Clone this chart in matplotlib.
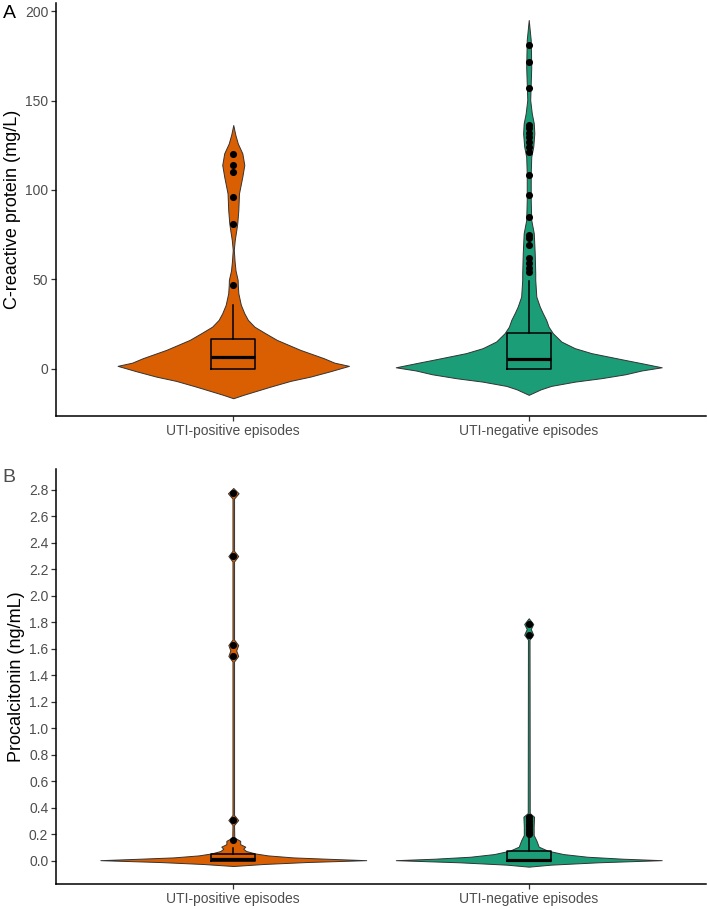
import matplotlib
matplotlib.use("Agg")
import numpy as np
import matplotlib.pyplot as plt

plt.rcParams['font.family'] = ['Liberation Sans', 'DejaVu Sans']

# groups and colours
groups = ["UTI-positive episodes", "UTI-negative episodes"]
colors = ["#D95F02", "#1B9E77"]

# ---- panel A: CRP (mg/L) ----
# violin outlines: y level and relative density (0-100)
crp_pos_y = [-16.4, -14.5, -9.9, -6.7, -4.3, -1.3, 1.7, 3.5, 6.0, 10.6, 16.2, 19.9,
             23.6, 27.4, 31.1, 35.8, 42.3, 47.0, 49.7, 55.0, 60.0, 66.5, 72.0, 77.7,
             81.4, 88.8, 98.1, 107.4, 114.0, 120.5, 126.0, 131.0, 136.3]
crp_pos_d = [0, 7.6, 28, 43, 58, 73, 87, 76, 68, 50.5, 32.8, 24.2,
             15.9, 11, 8.3, 5.7, 3.8, 3.4, 3.3, 1.7, 1.0, 0.4, 1.1, 2.3,
             3, 3.8, 4.3, 6.8, 8.3, 6.8, 3.4, 1.5, 0]
crp_neg_y = [-14.5, -11.4, -9.5, -7.1, -5.2, -3.0, -0.9, 0.9, 3.2, 5.0, 8.8, 11.6,
             15.3, 19.9, 23.6, 27.4, 31.1, 34.8, 40.4, 49.7, 53.4, 64.6, 75.8, 83.2,
             94.4, 109.2, 118.6, 124.2, 131.6, 137.2, 142.8, 150.3, 168.9, 183.8, 195.0]
crp_neg_d = [0, 9.1, 16.9, 34.8, 54.5, 72.7, 84.8, 100, 84.8, 72.5, 47.2, 34.6,
             24.5, 18.2, 14.9, 13.1, 10.6, 8.3, 5.7, 4.9, 4.9, 4.5, 3.8, 1.9,
             1.5, 1.5, 1.9, 3.4, 4.2, 3.8, 2.3, 1.1, 1.9, 1.5, 0]
# box stats: low whisker, q1, median, q3, high whisker
crp_pos_box = [0, 0, 6.9, 16.9, 35.8]
crp_neg_box = [0, 0, 5.8, 19.9, 49.0]
crp_pos_out = [120, 114, 110.2, 95.9, 80.8, 46.9]
crp_neg_out = [181, 171.7, 156.8, 136.3, 134.5, 132, 129.8, 127, 124.2, 121.4,
               108.4, 97.2, 85.1, 74.9, 73, 69.3, 61.8, 59, 56.2, 54]

# ---- panel B: procalcitonin (ng/mL) ----
pct_pos_y = [-0.040, -0.025, -0.010, 0.004, 0.015, 0.025, 0.040, 0.055, 0.073,
             0.090, 0.106, 0.125, 0.150, 0.175, 0.270, 0.307, 0.345, 1.505,
             1.546, 1.588, 1.629, 1.670, 2.260, 2.301, 2.340, 2.735, 2.775, 2.815]
pct_pos_d = [0, 22.4, 55.2, 100, 70.1, 44.8, 26.1, 16.4, 9.7,
             7.5, 9, 5.2, 5.2, 0.75, 0.6, 3.7, 0.6, 0.6,
             3.7, 2.2, 3.7, 0.6, 0.6, 3.7, 0.6, 0.6, 4, 0]
pct_neg_y = [-0.045, -0.030, -0.012, 0.004, 0.015, 0.030, 0.050, 0.076, 0.106,
             0.156, 0.194, 0.260, 0.332, 0.360, 1.670, 1.707, 1.750, 1.788, 1.831]
pct_neg_d = [0, 16.4, 52.2, 100, 70.9, 44, 26.1, 14.2, 7.5,
             5.6, 3.7, 3.7, 4, 0.75, 0.6, 3.4, 1.5, 3.4, 0]
pct_pos_box = [0, 0, 0.01, 0.05, 0.094]
pct_neg_box = [0, 0, 0.005, 0.076, 0.18]
pct_pos_out = [2.775, 2.301, 1.629, 1.546, 0.307, 0.156]
pct_neg_out = [1.788, 1.707, 0.33, 0.32, 0.30, 0.28, 0.26, 0.24, 0.22, 0.20]


def draw_panel(ax, violins, boxes, outliers, ylabel, yticks, ylim, fmt):
    for i, (vy, vd) in enumerate(violins):
        pos = i + 1
        w = 0.45 * np.array(vd) / 100.0
        ax.fill_betweenx(vy, pos - w, pos + w, facecolor=colors[i],
                         edgecolor="#333333", linewidth=0.7, zorder=1)
    stats = []
    for b in boxes:
        stats.append(dict(whislo=b[0], q1=b[1], med=b[2], q3=b[3], whishi=b[4]))
    ax.bxp(stats, positions=[1, 2], widths=0.15, showfliers=False, showcaps=False,
           boxprops=dict(color="black", linewidth=1.1),
           whiskerprops=dict(color="black", linewidth=1.1),
           medianprops=dict(color="black", linewidth=2.3),
           manage_ticks=False, zorder=2)
    for i, pts in enumerate(outliers):
        ax.scatter([i + 1] * len(pts), pts, s=26, color="black", zorder=3,
                   linewidths=0)
    ax.set_xlim(0.4, 2.6)
    ax.set_ylim(*ylim)
    ax.set_xticks([1, 2])
    ax.set_xticklabels(groups)
    ax.set_yticks(yticks)
    ax.set_yticklabels([fmt.format(t) for t in yticks])
    ax.set_ylabel(ylabel, fontsize=13, color="black", labelpad=3)
    for s in ["top", "right"]:
        ax.spines[s].set_visible(False)
    for s in ["left", "bottom"]:
        ax.spines[s].set_linewidth(1.1)
        ax.spines[s].set_color("black")
    ax.tick_params(axis="both", labelsize=10, labelcolor="#4D4D4D",
                   color="#333333", length=3.5, width=0.9, pad=2)


fig = plt.figure(figsize=(7.07, 9.09), dpi=100)
axA = fig.add_axes([0.0792, 0.5424, 0.9194, 0.4543])
axB = fig.add_axes([0.0792, 0.0272, 0.9194, 0.4565])

draw_panel(axA, [(crp_pos_y, crp_pos_d), (crp_neg_y, crp_neg_d)],
           [crp_pos_box, crp_neg_box], [crp_pos_out, crp_neg_out],
           "C-reactive protein (mg/L)", [0, 50, 100, 150, 200], (-26.3, 204.5), "{:.0f}")
draw_panel(axB, [(pct_pos_y, pct_pos_d), (pct_neg_y, pct_neg_d)],
           [pct_pos_box, pct_neg_box], [pct_pos_out, pct_neg_out],
           "Procalcitonin (ng/mL)", [round(0.2 * k, 1) for k in range(15)],
           (-0.178, 2.956), "{:.1f}")

fig.text(9 / 707, 1 - 14 / 909, "A", fontsize=14, color="black", ha="center", va="center")
fig.text(9 / 707, 1 - 478 / 909, "B", fontsize=14, color="#4D4D4D", ha="center", va="center")

fig.savefig("out.png", dpi=100)
